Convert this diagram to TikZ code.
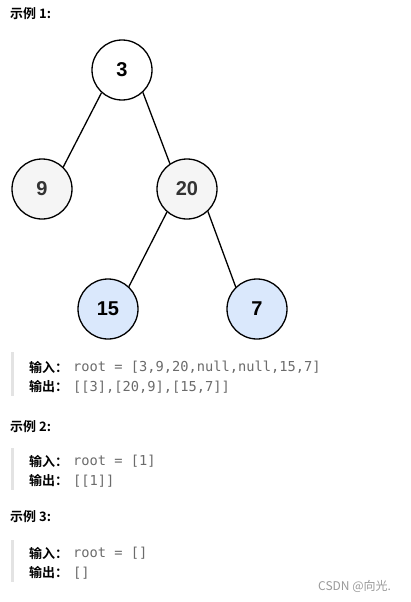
\documentclass[tikz,border=0pt]{standalone}
\usepackage{fontspec}
\setmainfont{Liberation Sans}
\newfontfamily\cjk{Noto Sans CJK SC}
\newfontfamily\cjkb{Noto Sans CJK SC Bold}
\setmonofont{DejaVu Sans Mono}
\definecolor{graynode}{HTML}{F5F5F5}
\definecolor{bluenode}{HTML}{DAE8FC}
\definecolor{codegray}{HTML}{6B6B6B}
\definecolor{barcol}{HTML}{E3E3E3}
\definecolor{wm}{HTML}{9A9A9A}
\begin{document}
\begin{tikzpicture}[x=1pt,y=-1pt,
  tnode/.style={circle,draw=black,line width=1.3pt,minimum size=60pt,inner sep=0pt,font=\fontsize{20}{24}\selectfont\bfseries},
  wnode/.style={tnode,fill=white,text=black},
  gnode/.style={tnode,fill=graynode,text=black!80},
  bnode/.style={tnode,fill=bluenode,text=black},
  edge/.style={line width=1.3pt,black},
  head/.style={anchor=west,inner sep=0pt,font=\cjkb\fontsize{13}{15}\selectfont},
  lab/.style={anchor=west,inner sep=0pt,font=\cjkb\fontsize{13}{15}\selectfont},
  code/.style={anchor=west,inner sep=0pt,text=codegray,font=\ttfamily\fontsize{13.7}{16}\selectfont},
  bar/.style={fill=barcol,draw=none}]
\useasboundingbox[fill=white] (0,0) rectangle (410,602);
% tree
\node[wnode] (n3) at (122,70) {3};
\node[gnode] (n9) at (42,189) {9};
\node[gnode] (n20) at (187,189) {20};
\node[bnode] (n15) at (108,309) {15};
\node[bnode] (n7) at (257,309) {7};
\draw[edge] (n3.-132) -- (n9.46);
\draw[edge] (n3.-47) -- (n20.124);
\draw[edge] (n20.-131) -- (n15.47);
\draw[edge] (n20.-47) -- (n7.134);
% example 1
\node[head] (h1) at (10,14) {示例 1:};
\fill[bar] (11,352) rectangle (13.5,396);
\node[lab] (i1) at (29,367) {输入：};
\node[code] (c1) at (73,367) {root = [3,9,20,null,null,15,7]};
\node[lab] (o1) at (29,387) {输出：};
\node[code] (d1) at (73,387) {[[3],[20,9],[15,7]]};
% example 2
\node[head] (h2) at (10,427) {示例 2:};
\fill[bar] (11,448) rectangle (13.5,490);
\node[lab] (i2) at (29,461) {输入：};
\node[code] (c2) at (73,461) {root = [1]};
\node[lab] (o2) at (29,481) {输出：};
\node[code] (d2) at (73,481) {[[1]]};
% example 3
\node[head] (h3) at (10,517) {示例 3:};
\fill[bar] (11,540) rectangle (13.5,582);
\node[lab] (i3) at (29,553) {输入：};
\node[code] (c3) at (73,553) {root = []};
\node[lab] (o3) at (29,573) {输出：};
\node[code] (d3) at (73,573) {[]};
% watermark
\node[anchor=west,inner sep=0pt,text=wm,font=\cjk\fontsize{12}{14}\selectfont] (wm) at (318,586) {CSDN @向光.};
\end{tikzpicture}
\end{document}
